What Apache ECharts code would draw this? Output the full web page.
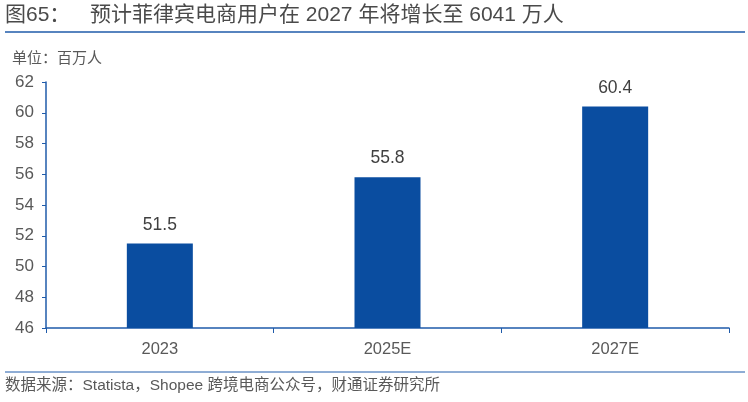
<!DOCTYPE html>
<html>
<head>
<meta charset="utf-8">
<script src="https://cdn.jsdelivr.net/npm/echarts@6/dist/echarts.min.js"></script>
<style>
  html, body { margin: 0; padding: 0; background: #fff; }
  #chart { width: 748px; height: 402px; }
</style>
</head>
<body>
<div id="chart"></div>
<script>
// 数据
var categories = ['2023', '2025E', '2027E'];
var users = [51.5, 55.8, 60.4];

var font = '"Liberation Sans", "Noto Sans CJK SC", sans-serif';
var blue = '#0A4DA0';

var chart = echarts.init(document.getElementById('chart'));
var option = {
    animation: false,
    textStyle: { fontFamily: font },
    graphic: [
        {
            type: 'text', left: 5, top: 5,
            style: { text: '图65：', fontSize: 21, fill: '#4a4a4a', fontFamily: font }
        },
        {
            type: 'text', left: 90, top: 5,
            style: { text: '预计菲律宾电商用户在 2027 年将增长至 6041 万人', fontSize: 21, fill: '#4a4a4a', fontFamily: font }
        },
        {
            type: 'line', shape: { x1: 5, y1: 32, x2: 745, y2: 32 },
            style: { stroke: '#1F5BAA', lineWidth: 1.5 }
        },
        {
            type: 'text', left: 12, top: 51,
            style: { text: '单位：百万人', fontSize: 15, fill: '#595959', fontFamily: font }
        },
        {
            type: 'line', shape: { x1: 5, y1: 372, x2: 745, y2: 372 },
            style: { stroke: '#1F5BAA', lineWidth: 1 }
        },
        {
            type: 'text', left: 5, top: 378,
            style: { text: '数据来源：Statista，Shopee 跨境电商公众号，财通证券研究所', fontSize: 15.5, fill: '#595959', fontFamily: font }
        }
    ],
    grid: { left: 46, right: 19, top: 82, bottom: 74 },
    xAxis: {
        type: 'category',
        data: categories,
        axisLine: { lineStyle: { color: '#1F5BAA', width: 1.5 } },
        axisTick: { show: true, length: 5, lineStyle: { color: '#1F5BAA' } },
        axisLabel: { color: '#595959', fontSize: 16.5, margin: 13 }
    },
    yAxis: {
        type: 'value',
        min: 46, max: 62, interval: 2,
        axisLine: { show: true, lineStyle: { color: '#1F5BAA', width: 1.5 } },
        axisTick: { show: true, length: 4, lineStyle: { color: '#1F5BAA' } },
        axisLabel: { color: '#595959', fontSize: 17, margin: 12 },
        splitLine: { show: false }
    },
    series: [{
        type: 'bar',
        data: users,
        barWidth: 66,
        itemStyle: { color: blue },
        label: {
            show: true, position: 'top', distance: 10,
            color: '#404040', fontSize: 17.5,
            formatter: function (p) { return p.value.toFixed(1); }
        }
    }]
};
chart.setOption(option);
</script>
</body>
</html>
